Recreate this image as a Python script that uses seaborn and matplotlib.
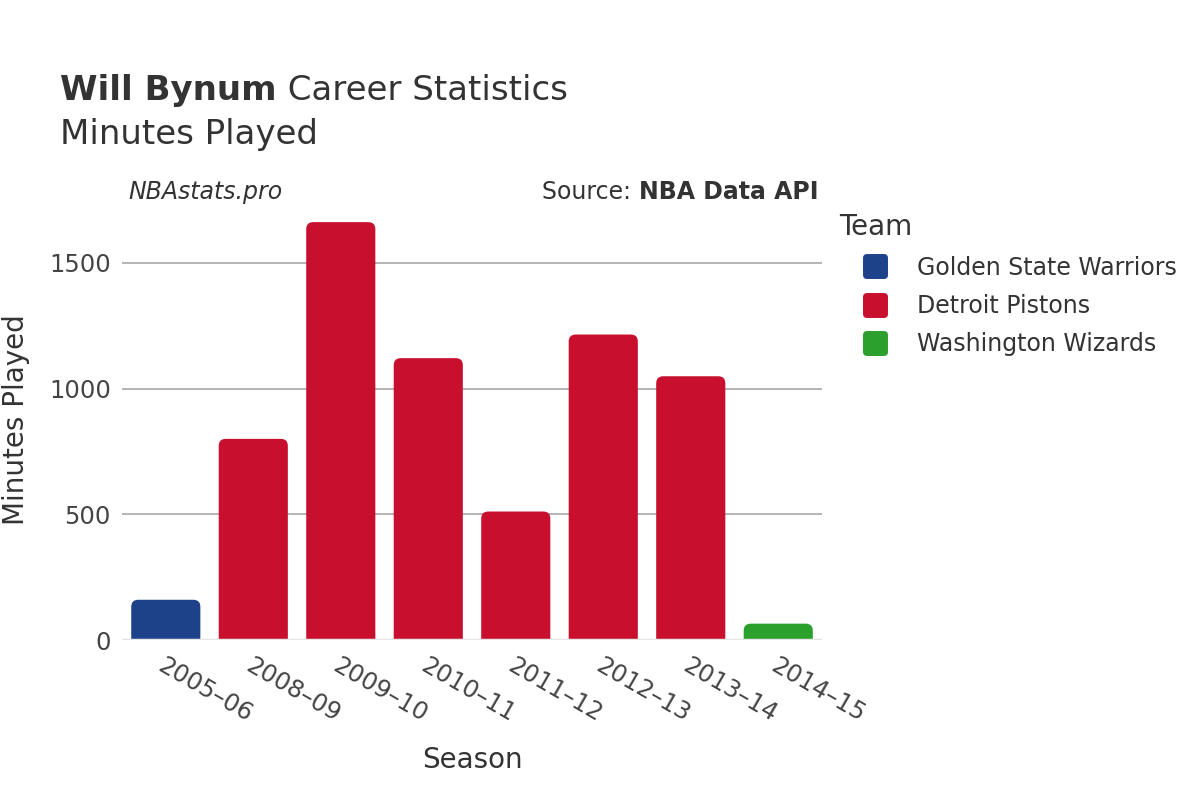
import numpy as np
import pandas as pd
import matplotlib
matplotlib.use("Agg")
import matplotlib.pyplot as plt
from matplotlib.patches import FancyBboxPatch
from matplotlib.lines import Line2D
from matplotlib.markers import MarkerStyle
import seaborn as sb

seasons = ["2005–06", "2008–09", "2009–10", "2010–11", "2011–12", "2012–13", "2013–14", "2014–15"]
minutes = [160, 800, 1662, 1121, 511, 1215, 1049, 65]
teams = ["Golden State Warriors", "Detroit Pistons", "Detroit Pistons", "Detroit Pistons",
         "Detroit Pistons", "Detroit Pistons", "Detroit Pistons", "Washington Wizards"]
team_order = ["Golden State Warriors", "Detroit Pistons", "Washington Wizards"]
team_colors = ["#1d428a", "#c8102e", "#2ca02c"]

df = pd.DataFrame({"Season": seasons, "Minutes": minutes, "Team": teams})
palette = dict(zip(team_order, team_colors))

sb.set_style("white")
plt.rcParams["font.family"] = ["DejaVu Sans"]
text_col = "#333333"

fig = plt.figure(figsize=(12, 8), dpi=100)
ax = fig.add_axes([0.1017, 0.2, 0.5833, 0.55])

sb.barplot(data=df, x="Season", y="Minutes", hue="Team", hue_order=team_order,
           palette=palette, dodge=False, width=0.79, saturation=1, ax=ax, legend=False)

ax.set_ylim(0, 1750)
ax.set_xlim(-0.5, len(seasons) - 0.5)

# swap plain bars for ones with rounded tops
ypp = 1750 / 440.0
xpp = len(seasons) / 700.0
for p in list(ax.patches):
    h = p.get_height()
    if not np.isfinite(h) or h <= 0:
        p.remove()
        continue
    x0, w, c = p.get_x(), p.get_width(), p.get_facecolor()
    p.remove()
    rb = FancyBboxPatch((x0, -60), w, h + 60,
                        boxstyle="round,pad=0,rounding_size=0.08",
                        mutation_aspect=ypp / xpp,
                        facecolor=c, edgecolor="none", zorder=2)
    ax.add_patch(rb)

ax.set_yticks([0, 500, 1000, 1500])
ax.yaxis.grid(True, color="#a0a0a0", linewidth=1.1, zorder=0)
ax.set_axisbelow(True)
ax.axhline(0, color="#e5e5e5", linewidth=2.5, zorder=3)
for s in ax.spines.values():
    s.set_visible(False)

ax.tick_params(axis="y", labelsize=17.5, labelcolor="#444444", length=0, pad=8)
ax.tick_params(axis="x", labelsize=17.5, labelcolor="#444444", length=0, pad=10)
plt.setp(ax.get_xticklabels(), rotation=-30, ha="left", rotation_mode="anchor")

ax.set_xlabel("Season", fontsize=20, color=text_col, labelpad=14)
ax.set_ylabel("Minutes Played", fontsize=20, color=text_col)
ax.yaxis.set_label_coords(-0.131, 0.5)

t1 = fig.text(0.05, 0.875, "Will Bynum", fontsize=24.5, fontweight="bold", color=text_col)
ax.annotate(" Career Statistics", xy=(1, 0), xycoords=t1, fontsize=24.5,
            color=text_col, va="bottom", ha="left", annotation_clip=False)
fig.text(0.05, 0.82, "Minutes Played", fontsize=24.5, color=text_col)

fig.text(0.107, 0.76, "NBAstats.pro", fontsize=17, style="italic", color=text_col, va="center")
s1 = fig.text(0.682, 0.76, "NBA Data API", fontsize=17, fontweight="bold",
              color=text_col, va="center", ha="right")
ax.annotate("Source: ", xy=(0, 0.5), xycoords=s1, fontsize=17, color=text_col,
            va="center", ha="right", annotation_clip=False)

box = MarkerStyle("s", joinstyle="round")
handles = [Line2D([0], [0], marker=box, linestyle="none", markersize=13,
                  markeredgewidth=5, markerfacecolor=c, markeredgecolor=c)
           for c in team_colors]
leg = fig.legend(handles, team_order, title="Team", loc="upper left",
                 bbox_to_anchor=(0.6917, 0.745), frameon=False, fontsize=17,
                 title_fontsize=20, handletextpad=0.22, labelspacing=0.6,
                 borderaxespad=0, handlelength=3.05)
for t in leg.get_texts():
    t.set_color(text_col)
leg.get_title().set_color(text_col)
leg._legend_box.align = "left"

fig.savefig("out.png", dpi=100, facecolor="white")
